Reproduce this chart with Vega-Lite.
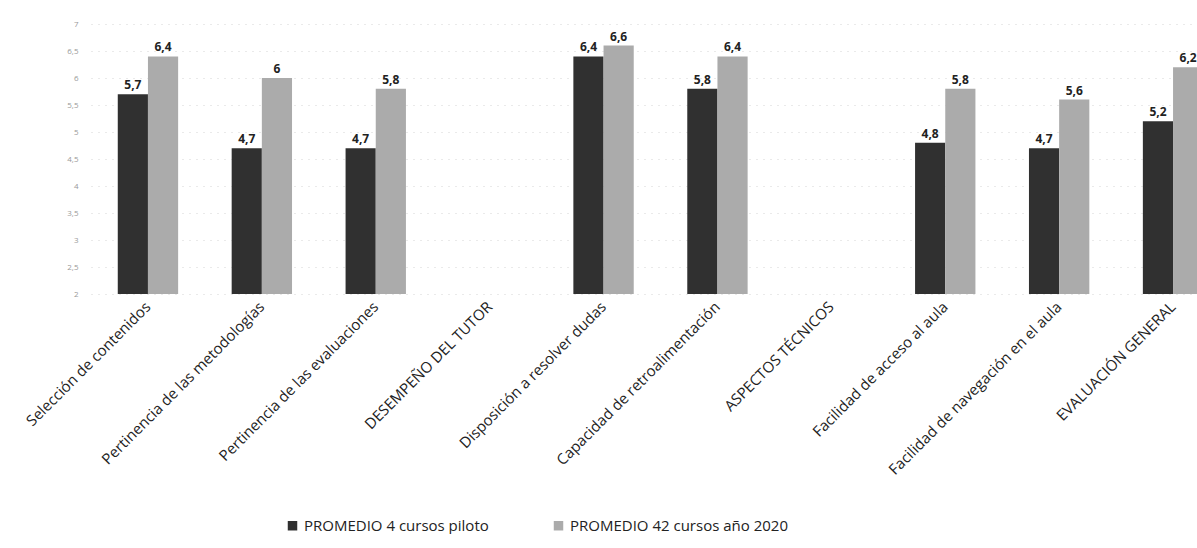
{
  "$schema": "https://vega.github.io/schema/vega-lite/v6.json",
  "width": 1106,
  "height": 270,
  "padding": {"left": 5, "top": 20, "right": 0, "bottom": 0},
  "autosize": {"type": "pad"},
  "background": "white",
  "config": {
    "locale": {"number": {"decimal": ",", "thousands": ".", "grouping": [3], "currency": ["", " €"]}},
    "view": {"stroke": null},
    "font": "Open Sans"
  },
  "data": {
    "values": [
      {"cat": "Selección de contenidos", "serie": "PROMEDIO 4 cursos piloto", "valor": 5.7},
      {"cat": "Selección de contenidos", "serie": "PROMEDIO 42 cursos año 2020", "valor": 6.4},
      {"cat": "Pertinencia de las metodologías", "serie": "PROMEDIO 4 cursos piloto", "valor": 4.7},
      {"cat": "Pertinencia de las metodologías", "serie": "PROMEDIO 42 cursos año 2020", "valor": 6.0},
      {"cat": "Pertinencia de las evaluaciones", "serie": "PROMEDIO 4 cursos piloto", "valor": 4.7},
      {"cat": "Pertinencia de las evaluaciones", "serie": "PROMEDIO 42 cursos año 2020", "valor": 5.8},
      {"cat": "Disposición a resolver dudas", "serie": "PROMEDIO 4 cursos piloto", "valor": 6.4},
      {"cat": "Disposición a resolver dudas", "serie": "PROMEDIO 42 cursos año 2020", "valor": 6.6},
      {"cat": "Capacidad de retroalimentación", "serie": "PROMEDIO 4 cursos piloto", "valor": 5.8},
      {"cat": "Capacidad de retroalimentación", "serie": "PROMEDIO 42 cursos año 2020", "valor": 6.4},
      {"cat": "Facilidad de acceso al aula", "serie": "PROMEDIO 4 cursos piloto", "valor": 4.8},
      {"cat": "Facilidad de acceso al aula", "serie": "PROMEDIO 42 cursos año 2020", "valor": 5.8},
      {"cat": "Facilidad de navegación en el aula", "serie": "PROMEDIO 4 cursos piloto", "valor": 4.7},
      {"cat": "Facilidad de navegación en el aula", "serie": "PROMEDIO 42 cursos año 2020", "valor": 5.6},
      {"cat": "EVALUACIÓN GENERAL", "serie": "PROMEDIO 4 cursos piloto", "valor": 5.2},
      {"cat": "EVALUACIÓN GENERAL", "serie": "PROMEDIO 42 cursos año 2020", "valor": 6.2}
    ]
  },
  "encoding": {
    "x": {
      "field": "cat",
      "type": "nominal",
      "sort": null,
      "scale": {
        "domain": [
          "Selección de contenidos",
          "Pertinencia de las metodologías",
          "Pertinencia de las evaluaciones",
          "DESEMPEÑO DEL TUTOR",
          "Disposición a resolver dudas",
          "Capacidad de retroalimentación",
          "ASPECTOS TÉCNICOS",
          "Facilidad de acceso al aula",
          "Facilidad de navegación en el aula",
          "EVALUACIÓN GENERAL"
        ],
        "range": [0, 1139],
        "paddingInner": 0.47,
        "paddingOuter": 0.235
      },
      "axis": {
        "title": null,
        "labelAngle": -45,
        "labelAlign": "right",
        "labelBaseline": "middle",
        "labelFontSize": 15,
        "labelColor": "#222",
        "labelPadding": 10,
        "ticks": false,
        "domain": false,
        "grid": false,
        "labelLimit": 300
      }
    },
    "xOffset": {"field": "serie", "type": "nominal"},
    "y": {
      "field": "valor",
      "type": "quantitative",
      "scale": {"domain": [2, 7], "nice": false, "zero": false},
      "axis": {
        "title": null,
        "values": [2, 2.5, 3, 3.5, 4, 4.5, 5, 5.5, 6, 6.5, 7],
        "format": ".1~f",
        "labelFontSize": 8,
        "labelColor": "#999",
        "labelPadding": 13,
        "ticks": false,
        "domain": false,
        "grid": true,
        "gridColor": "#cccccc",
        "gridDash": [1, 6],
        "gridOpacity": 0.8,
        "minExtent": 86,
        "maxExtent": 86
      }
    }
  },
  "layer": [
    {
      "mark": {"type": "bar"},
      "encoding": {
        "y2": {"datum": 2},
        "color": {
          "field": "serie",
          "type": "nominal",
          "scale": {
            "domain": ["PROMEDIO 4 cursos piloto", "PROMEDIO 42 cursos año 2020"],
            "range": ["#303030", "#ababab"]
          },
          "legend": {
            "title": null,
            "orient": "none",
            "legendX": 194,
            "legendY": 494,
            "direction": "horizontal",
            "columns": 2,
            "columnPadding": 62,
            "symbolType": "square",
            "symbolSize": 90,
            "labelFontSize": 15,
            "labelColor": "#222",
            "labelFont": "Open Sans",
            "labelLimit": 400
          }
        }
      }
    },
    {
      "mark": {"type": "text", "dy": -9, "fontSize": 12, "fontWeight": "bold", "color": "#222"},
      "encoding": {
        "text": {"field": "valor", "type": "quantitative", "format": ".1~f"}
      }
    }
  ]
}
